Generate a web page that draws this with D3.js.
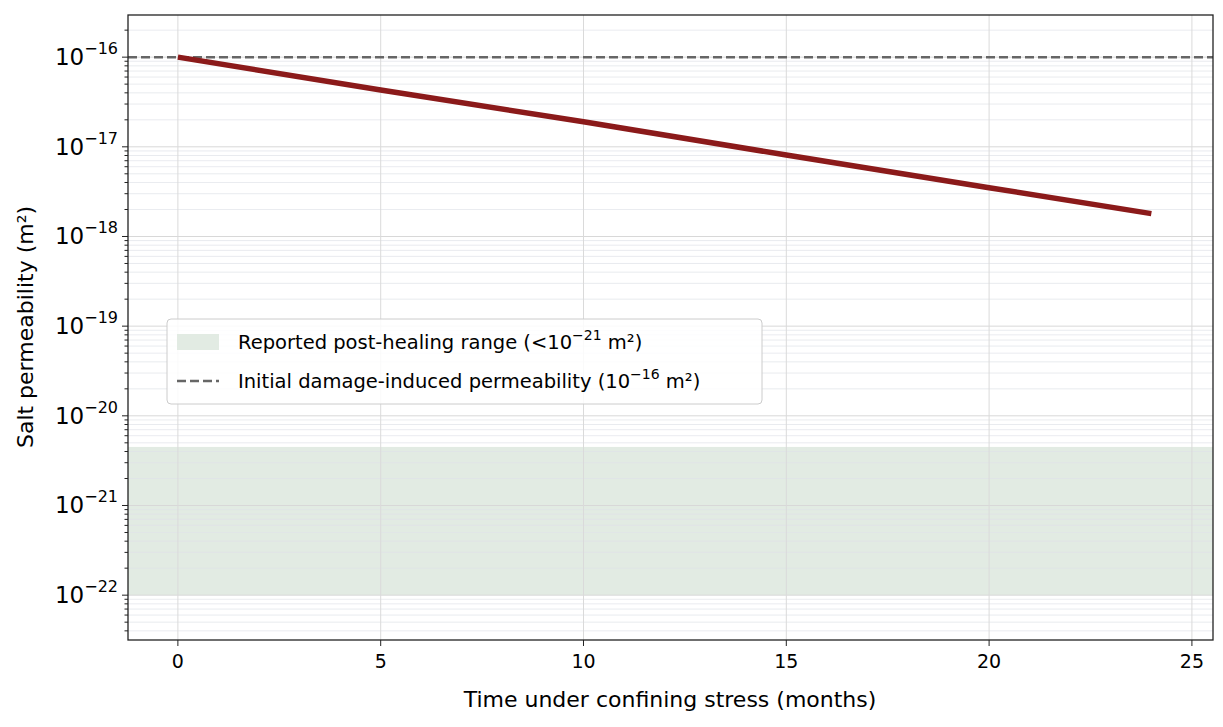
<!DOCTYPE html><html><head><meta charset="utf-8">
<script src="https://cdn.jsdelivr.net/npm/d3@7"></script>
<style>body{margin:0;background:#fff}text{font-family:"DejaVu Sans",sans-serif}</style></head><body>
<svg id="c" width="1223" height="727"></svg>
<script>
const months=[0,5,10,15,20,24];
const perm=[1e-16,4.3e-17,1.9e-17,8.1e-18,3.5e-18,1.8e-18];
const xTicks=[0,5,10,15,20,25];
const yExps=[-22,-21,-20,-19,-18,-17,-16];
const band=[1e-22,4.5e-21];
const initialPerm=1e-16;
const svg=d3.select("#c");
const L=128,R=1213,T=15,B=640;
const x=d3.scaleLinear().domain([-1.23,25.52]).range([L,R]);
const y=d3.scaleLog().domain([Math.pow(10,-22.5),Math.pow(10,-15.53)]).range([B,T]);
svg.append("rect").attr("x",L).attr("width",R-L).attr("y",y(band[1])).attr("height",y(band[0])-y(band[1])).attr("fill","#e2ebe3");
const minors=[];for(let e=-23;e<=-16;e++)for(let k=2;k<=9;k++){const v=k*Math.pow(10,e);if(v>y.domain()[0]&&v<y.domain()[1])minors.push(v);}
svg.selectAll(".mg").data(minors).join("line").attr("x1",L).attr("x2",R).attr("y1",d=>y(d)).attr("y2",d=>y(d)).attr("stroke","#dfe2e8").attr("stroke-width",0.7);
svg.selectAll(".yg").data(yExps).join("line").attr("x1",L).attr("x2",R).attr("y1",d=>y(Math.pow(10,d))).attr("y2",d=>y(Math.pow(10,d))).attr("stroke","#d8d8d8").attr("stroke-width",1);
svg.selectAll(".xg").data(xTicks).join("line").attr("y1",T).attr("y2",B).attr("x1",d=>x(d)).attr("x2",d=>x(d)).attr("stroke","#dadada").attr("stroke-width",1);
svg.append("line").attr("x1",L).attr("x2",R).attr("y1",y(initialPerm)).attr("y2",y(initialPerm)).attr("stroke","#666").attr("stroke-width",2.5).attr("stroke-dasharray","9,4");
svg.append("path").datum(months.map((m,i)=>[m,perm[i]])).attr("d",d3.line().x(d=>x(d[0])).y(d=>y(d[1]))).attr("fill","none").attr("stroke","#8b1a1a").attr("stroke-width",5.5);
svg.append("rect").attr("x",L).attr("y",T).attr("width",R-L).attr("height",B-T).attr("fill","none").attr("stroke","#222").attr("stroke-width",1.3);
xTicks.forEach(t=>{svg.append("line").attr("x1",x(t)).attr("x2",x(t)).attr("y1",B).attr("y2",B+6).attr("stroke","#222");
svg.append("text").attr("x",x(t)).attr("y",B+28).attr("text-anchor","middle").attr("font-size",19).text(t);});
minors.forEach(v=>svg.append("line").attr("x1",L-3.5).attr("x2",L).attr("y1",y(v)).attr("y2",y(v)).attr("stroke","#222"));
yExps.forEach(e=>{const yy=y(Math.pow(10,e));svg.append("line").attr("x1",L-6).attr("x2",L).attr("y1",yy).attr("y2",yy).attr("stroke","#222");
const t=svg.append("text").attr("x",L-10).attr("y",yy+8).attr("text-anchor","end").attr("font-size",23);
t.append("tspan").text("10");t.append("tspan").attr("dy",-11).attr("font-size",16).text("\u2212"+(-e));});
svg.append("text").attr("x",670).attr("y",707).attr("text-anchor","middle").attr("font-size",22).text("Time under confining stress (months)");
svg.append("text").attr("transform","translate(33,327) rotate(-90)").attr("text-anchor","middle").attr("font-size",22).text("Salt permeability (m²)");
const lg=svg.append("g");
lg.append("rect").attr("x",167).attr("y",319).attr("width",595).attr("height",85).attr("rx",4).attr("fill","#fff").attr("fill-opacity",0.85).attr("stroke","#ccc");
lg.append("rect").attr("x",177).attr("y",334).attr("width",42).attr("height",16).attr("fill","#e2ebe3");
lg.append("line").attr("x1",177).attr("x2",219).attr("y1",381).attr("y2",381).attr("stroke","#666").attr("stroke-width",2.5).attr("stroke-dasharray","9,4");
const t1=lg.append("text").attr("x",238).attr("y",349).attr("font-size",19.5);
t1.append("tspan").text("Reported post-healing range (<10");t1.append("tspan").attr("dy",-9).attr("font-size",14).text("\u221221");t1.append("tspan").attr("dy",9).text(" m²)");
const t2=lg.append("text").attr("x",238).attr("y",388).attr("font-size",19.5);
t2.append("tspan").text("Initial damage-induced permeability (10");t2.append("tspan").attr("dy",-9).attr("font-size",14).text("\u221216");t2.append("tspan").attr("dy",9).text(" m²)");
</script></body></html>
